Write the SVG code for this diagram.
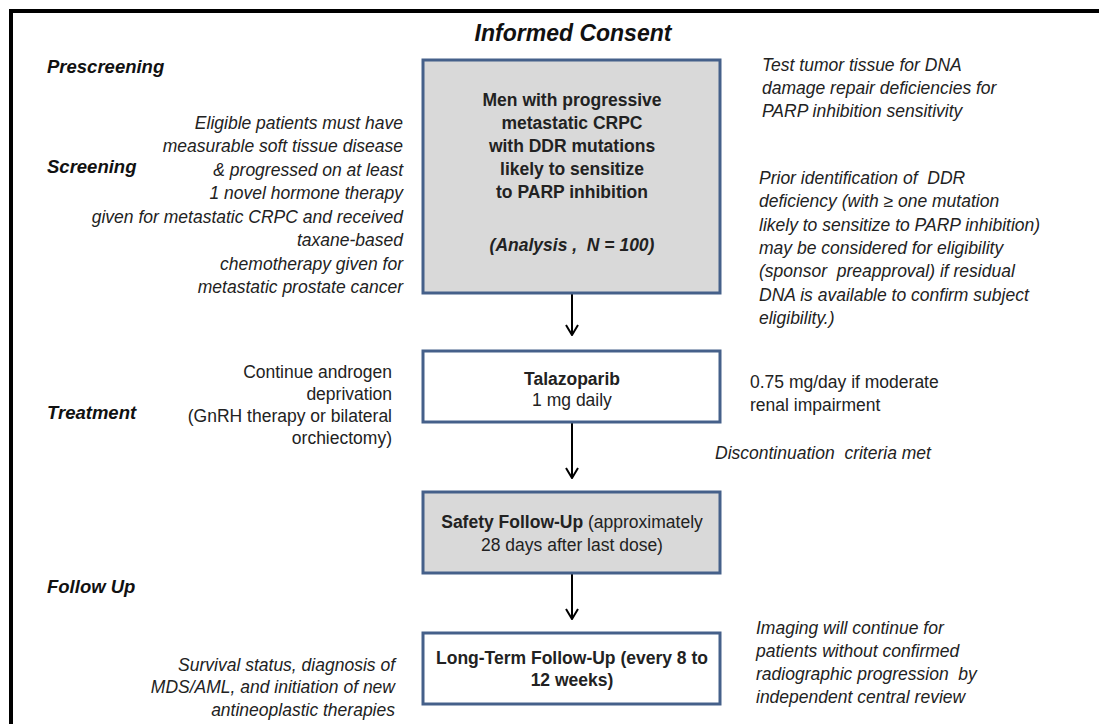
<svg xmlns="http://www.w3.org/2000/svg" width="1099" height="724" viewBox="0 0 1099 724">
<style>
text{font-family:"Liberation Sans",Arial,sans-serif;font-size:17.5px;fill:#222}
.b{font-weight:bold}
.i{font-style:italic}
.lbl{font-weight:bold;font-style:italic;font-size:18.5px;fill:#111}
.box{stroke:#45608a;stroke-width:3}
.gray{fill:#d9d9d9}
.white{fill:#fff}
.c{text-anchor:middle}
.r{text-anchor:end}
.conn{stroke:#000;stroke-width:2;fill:none}
</style>
<defs>
<marker id="arr" viewBox="0 0 12 14" refX="11" refY="7" markerWidth="12" markerHeight="14" markerUnits="userSpaceOnUse" orient="auto">
<path d="M1,1 L11,7 L1,13" fill="none" stroke="#000" stroke-width="2"/>
</marker>
</defs>
<rect width="1099" height="724" fill="#fff"/>
<rect x="11" y="11" width="1100" height="730" fill="none" stroke="#000" stroke-width="4"/>

<text class="lbl c" x="573" y="41" style="font-size:23px">Informed Consent</text>

<g id="labels">
<text class="lbl" x="47" y="73">Prescreening</text>
<text class="lbl" x="47" y="173">Screening</text>
<text class="lbl" x="47" y="419">Treatment</text>
<text class="lbl" x="47" y="593">Follow Up</text>
</g>

<g id="connectors">
<line class="conn" x1="572" y1="294" x2="572" y2="335" marker-end="url(#arr)"/>
<line class="conn" x1="572" y1="423" x2="572" y2="478" marker-end="url(#arr)"/>
<line class="conn" x1="572" y1="574" x2="572" y2="619" marker-end="url(#arr)"/>
</g>

<g id="node-population">
<rect class="box gray" x="423" y="60" width="297" height="233"/>
<text class="b c" x="572" y="106">Men with progressive</text>
<text class="b c" x="572" y="129">metastatic CRPC</text>
<text class="b c" x="572" y="152">with DDR mutations</text>
<text class="b c" x="572" y="175">likely to sensitize</text>
<text class="b c" x="572" y="198">to PARP inhibition</text>
<text class="b i c" x="572" y="251" xml:space="preserve">(Analysis ,  N = 100)</text>
</g>

<g id="node-talazoparib">
<rect class="box white" x="423" y="351" width="297" height="71"/>
<text class="b c" x="572" y="385">Talazoparib</text>
<text class="c" x="572" y="406">1 mg daily</text>
</g>

<g id="node-safety">
<rect class="box gray" x="423" y="492" width="297" height="81"/>
<text class="c" x="572" y="528"><tspan class="b">Safety Follow-Up</tspan> (approximately</text>
<text class="c" x="572" y="551">28 days after last dose)</text>
</g>

<g id="node-longterm">
<rect class="box white" x="423" y="633" width="297" height="71"/>
<text class="b c" x="572" y="664">Long-Term Follow-Up (every 8 to</text>
<text class="b c" x="572" y="686">12 weeks)</text>
</g>

<g id="note-screening">
<text class="i r" x="403" y="129">Eligible patients must have</text>
<text class="i r" x="403" y="152">measurable soft tissue disease</text>
<text class="i r" x="403" y="176">&amp; progressed on at least</text>
<text class="i r" x="403" y="199">1 novel hormone therapy</text>
<text class="i r" x="403" y="223">given for metastatic CRPC and received</text>
<text class="i r" x="403" y="246">taxane-based</text>
<text class="i r" x="403" y="270">chemotherapy given for</text>
<text class="i r" x="403" y="293">metastatic prostate cancer</text>
</g>

<g id="note-androgen">
<text class="r" x="392" y="378">Continue androgen</text>
<text class="r" x="392" y="400">deprivation</text>
<text class="r" x="392" y="422">(GnRH therapy or bilateral</text>
<text class="r" x="392" y="444">orchiectomy)</text>
</g>

<g id="note-survival">
<text class="i r" x="395" y="671">Survival status, diagnosis of</text>
<text class="i r" x="395" y="693">MDS/AML, and initiation of new</text>
<text class="i r" x="395" y="716">antineoplastic therapies</text>
</g>

<g id="note-test">
<text class="i" x="762" y="71">Test tumor tissue for DNA</text>
<text class="i" x="762" y="94">damage repair deficiencies for</text>
<text class="i" x="762" y="117">PARP inhibition sensitivity</text>
</g>

<g id="note-prior">
<text class="i" x="759" y="184" xml:space="preserve">Prior identification of  DDR</text>
<text class="i" x="759" y="207">deficiency (with ≥ one mutation</text>
<text class="i" x="759" y="231">likely to sensitize to PARP inhibition)</text>
<text class="i" x="759" y="254">may be considered for eligibility</text>
<text class="i" x="759" y="277" xml:space="preserve">(sponsor  preapproval) if residual</text>
<text class="i" x="759" y="301">DNA is available to confirm subject</text>
<text class="i" x="759" y="324">eligibility.)</text>
</g>

<g id="note-renal">
<text x="750" y="388">0.75 mg/day if moderate</text>
<text x="750" y="411">renal impairment</text>
</g>

<text class="i" x="715" y="459" xml:space="preserve">Discontinuation  criteria met</text>

<g id="note-imaging">
<text class="i" x="756" y="634">Imaging will continue for</text>
<text class="i" x="756" y="657">patients without confirmed</text>
<text class="i" x="756" y="680" xml:space="preserve">radiographic progression  by</text>
<text class="i" x="756" y="703">independent central review</text>
</g>
</svg>
